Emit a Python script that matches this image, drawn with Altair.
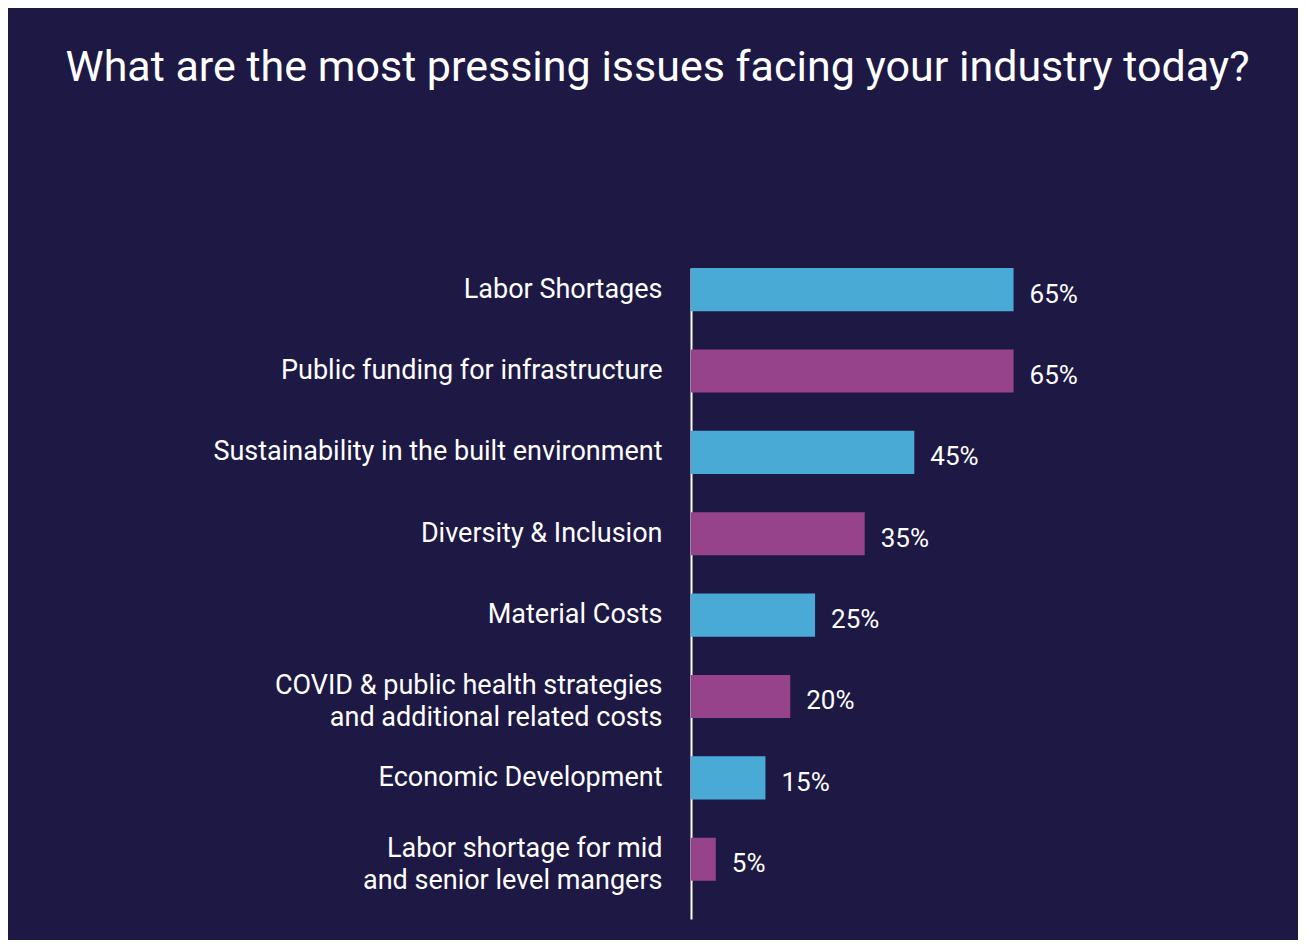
import altair as alt
import pandas as pd

title_text = "What are the most pressing issues facing your industry today?"

categories = [
    "Labor Shortages",
    "Public funding for infrastructure",
    "Sustainability in the built environment",
    "Diversity & Inclusion",
    "Material Costs",
    "COVID & public health strategies\nand additional related costs",
    "Economic Development",
    "Labor shortage for mid\nand senior level mangers",
]
values = [65, 65, 45, 35, 25, 20, 15, 5]

BG = "#1e1944"
BLUE = "#4aaad6"
PURPLE = "#96438c"

df = pd.DataFrame({"issue": categories, "pct": values})
df["order"] = range(len(df))
df["label"] = df["pct"].astype(str) + "%"

base = alt.Chart(df).transform_calculate(
    parity="datum.order % 2 == 0 ? 'a' : 'b'"
)

y_scale = alt.Scale(paddingInner=0.47, paddingOuter=0.235, align=0)

y_enc = alt.Y(
    "issue:N",
    sort=categories,
    title=None,
    scale=y_scale,
    axis=alt.Axis(
        labelExpr="split(datum.label, '\\n')",
        labelFont="Roboto",
        labelFontSize=27,
        labelColor="white",
        labelPadding=29,
        labelLineHeight=32,
        labelLimit=0,
        labelOffset={
            "condition": {"test": "indexof(datum.value, '\\n') >= 0", "value": -10},
            "value": 0,
        },
        ticks=False,
        domainColor="white",
        domainWidth=2,
        grid=False,
    ),
)

x_enc = alt.X(
    "pct:Q",
    scale=alt.Scale(domain=[0, 80]),
    axis=None,
)

bars = base.mark_bar().encode(
    y=y_enc,
    x=x_enc,
    color=alt.Color(
        "parity:N",
        scale=alt.Scale(domain=["a", "b"], range=[BLUE, PURPLE]),
        legend=None,
    ),
)

texts = base.mark_text(
    align="left",
    baseline="middle",
    dx=16,
    dy=5,
    font="Roboto",
    fontSize=26,
    color="white",
).encode(
    y=alt.Y("issue:N", sort=categories, scale=y_scale),
    x="pct:Q",
    text="label:N",
)

chart = (
    alt.layer(bars, texts)
    .properties(
        width=397,
        height=651,
        background=BG,
        autosize=alt.AutoSizeParams(type="none"),
        padding={"left": 683, "top": 260, "right": 210, "bottom": 21},
        title=alt.TitleParams(
            text=title_text,
            font="Roboto",
            fontSize=43,
            fontWeight="normal",
            color="white",
            anchor="middle",
            frame="group",
            baseline="alphabetic",
            offset=144,
            dx=-232,
        ),
    )
    .configure_view(stroke=None)
)

chart.save("out.html", embed_options={"renderer": "svg", "actions": False})
